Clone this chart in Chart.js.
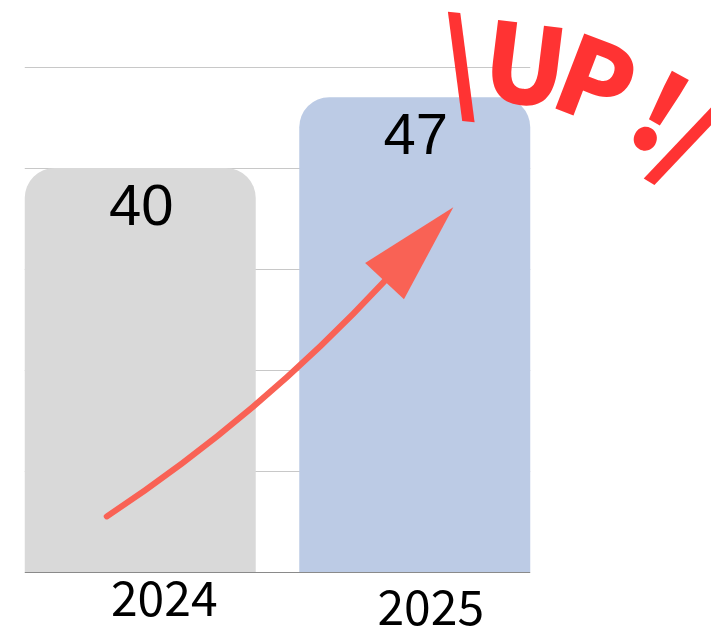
<!DOCTYPE html>
<html>
<head>
<meta charset="utf-8">
<script src="https://cdn.jsdelivr.net/npm/chart.js@4.4.1/dist/chart.umd.min.js"></script>
<style>
  html, body { margin: 0; padding: 0; background: #fff; }
  #wrap { width: 711px; height: 630px; }
</style>
</head>
<body>
<div id="wrap"><canvas id="chart" width="711" height="630"></canvas></div>
<script>
// Dados
const years = ["2024", "2025"];
const values = [40, 47];
const barColors = ["#d9d9d9", "#bccbe5"];
const yTicks = [0, 10, 20, 30, 40, 50];
const badgeText = ["\\", "U", "P", "!", "/"];

// Plugin de decoração: linhas de grade, rótulos, seta e texto "UP"
const decor = {
  id: "decor",
  beforeDatasetsDraw(chart) {
    const { ctx, scales } = chart;
    const bars = chart.getDatasetMeta(0).data;
    const first = bars[0];
    const last = bars[bars.length - 1];
    const left = first.x - first.width / 2;
    const right = last.x + last.width / 2;

    ctx.save();
    ctx.lineWidth = 1;
    yTicks.forEach((v) => {
      const py = Math.round(scales.y.getPixelForValue(v)) + 0.5;
      ctx.strokeStyle = v === 0 ? "#8a8a8a" : "#c8c8c8";
      ctx.beginPath();
      ctx.moveTo(left, py);
      ctx.lineTo(right, py);
      ctx.stroke();
    });
    ctx.restore();
  },
  afterDatasetsDraw(chart) {
    const { ctx, scales } = chart;
    const x = scales.x;
    const y = scales.y;
    const bars = chart.getDatasetMeta(0).data;
    const catW = x.getPixelForValue(1) - x.getPixelForValue(0);
    const pt = (c, v) => [x.getPixelForValue(0) + c * catW, y.getPixelForValue(v)];
    const base = y.getPixelForValue(0);

    ctx.save();

    // Valores dentro das barras
    ctx.fillStyle = "#000";
    ctx.font = "58px 'Liberation Sans', Arial, sans-serif";
    ctx.textAlign = "center";
    ctx.textBaseline = "middle";
    bars.forEach((bar, i) => {
      ctx.fillText(String(values[i]), bar.x + 1, bar.y + 41);
    });

    // Rótulos dos anos
    ctx.font = "48px 'Noto Sans CJK JP', 'Noto Sans', sans-serif";
    const labelOffsets = [[24, 26], [16, 35]];
    years.forEach((yr, i) => {
      ctx.fillText(yr, bars[i].x + labelOffsets[i][0], base + labelOffsets[i][1]);
    });

    // Seta curva
    const p0 = pt(-0.122, 5.5);
    const c = pt(0.435, 15.5);
    const p2 = pt(0.89, 28.8);
    ctx.strokeStyle = "#f96255";
    ctx.fillStyle = "#f96255";
    ctx.lineWidth = 6;
    ctx.lineCap = "round";
    ctx.beginPath();
    ctx.moveTo(p0[0], p0[1]);
    ctx.quadraticCurveTo(c[0], c[1], p2[0], p2[1]);
    ctx.stroke();

    const dx = p2[0] - c[0];
    const dy = p2[1] - c[1];
    const len = Math.hypot(dx, dy);
    const ux = dx / len, uy = dy / len;
    const headLen = 101, headHalf = 26.5;
    ctx.beginPath();
    ctx.moveTo(p2[0] + ux * headLen, p2[1] + uy * headLen);
    ctx.lineTo(p2[0] - uy * headHalf, p2[1] + ux * headHalf);
    ctx.lineTo(p2[0] + uy * headHalf, p2[1] - ux * headHalf);
    ctx.closePath();
    ctx.fill();

    // Texto "\UP!/" em arco (centro de cada letra e rotação)
    const spots = [
      [pt(1.168, 50.0), 5],
      [pt(1.401, 50.2), 7],
      [pt(1.667, 48.5), 21],
      [pt(1.893, 45.5), 29],
      [pt(1.991, 42.6), 31],
    ];
    const fs = 108;
    ctx.font = "900 " + fs + "px 'Noto Sans CJK JP', 'DejaVu Sans', sans-serif";
    ctx.fillStyle = "#ff3333";
    ctx.textAlign = "left";
    ctx.textBaseline = "alphabetic";
    badgeText.forEach((ch, i) => {
      const [p, ang] = spots[i];
      const m = ctx.measureText(ch);
      const ox = (m.actualBoundingBoxRight - m.actualBoundingBoxLeft) / 2;
      const oy = (m.actualBoundingBoxAscent - m.actualBoundingBoxDescent) / 2;
      ctx.save();
      ctx.translate(p[0], p[1]);
      ctx.rotate((ang * Math.PI) / 180);
      ctx.fillText(ch, -ox, oy);
      ctx.restore();
    });

    ctx.restore();
  },
};

new Chart(document.getElementById("chart").getContext("2d"), {
  type: "bar",
  data: {
    labels: years,
    datasets: [
      {
        data: values,
        backgroundColor: barColors,
        borderWidth: 0,
        borderRadius: { topLeft: 30, topRight: 30, bottomLeft: 0, bottomRight: 0 },
        borderSkipped: "start",
        categoryPercentage: 1,
        barPercentage: 0.8415,
      },
    ],
  },
  options: {
    responsive: false,
    animation: false,
    layout: {
      padding: { left: 3, right: 159, top: 67, bottom: 58 },
    },
    plugins: {
      legend: { display: false },
      tooltip: { enabled: false },
    },
    scales: {
      x: { display: false },
      y: {
        display: false,
        min: 0,
        max: 50,
        ticks: { stepSize: 10 },
      },
    },
  },
  plugins: [decor],
});
</script>
</body>
</html>
